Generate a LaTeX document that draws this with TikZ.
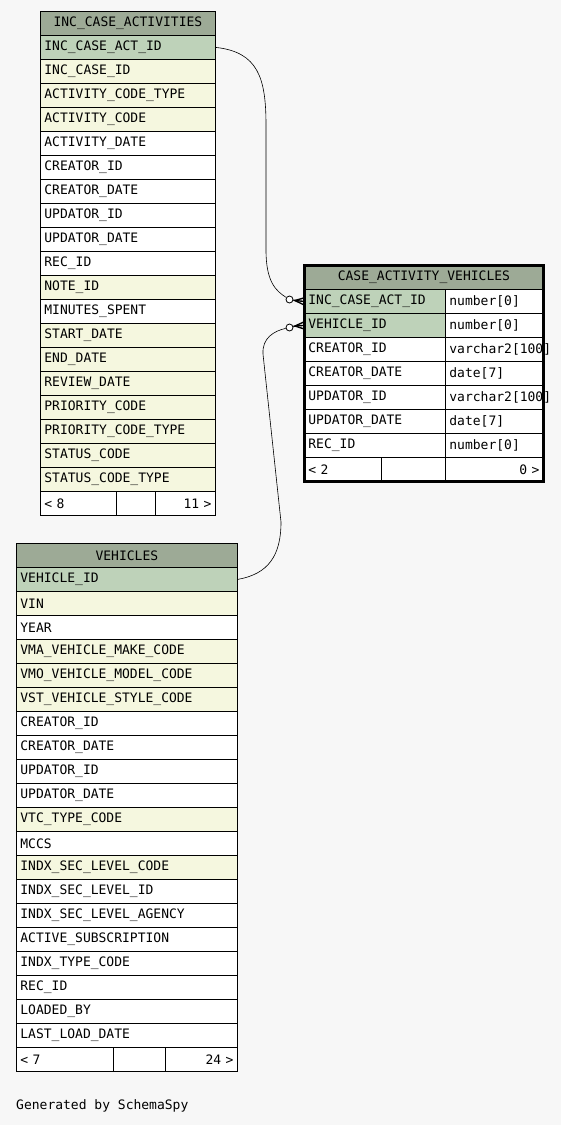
\documentclass[tikz,border=0pt]{standalone}
\usepackage{fontspec}
\usepackage{tikz}
\usepackage{xcolor}
\usetikzlibrary{calc}
\newfontfamily\monofam{DejaVu Sans Mono}
\newcommand{\tblfont}{\monofam\fontsize{13}{15}\selectfont}
\definecolor{pagebg}{HTML}{F7F7F7}
\definecolor{headgreen}{HTML}{9DAA96}
\definecolor{pkgreen}{HTML}{BED2B9}
\definecolor{fkyellow}{HTML}{F5F7DF}
\tikzset{
  tblrow/.style={draw=black,line width=0.8pt,anchor=north west,
                 minimum height=24pt,inner xsep=4pt,inner ysep=0pt,
                 align=left,font=\tblfont},
  headrow/.style={tblrow,fill=headgreen,align=center},
  pkrow/.style={tblrow,fill=pkgreen},
  fkrow/.style={tblrow,fill=fkyellow},
  fldrow/.style={tblrow,fill=white},
  footleft/.style={tblrow,fill=white},
  footright/.style={tblrow,fill=white,align=right},
  relline/.style={line width=0.6pt},
  crowfoot/.style={line width=1.4pt},
  optcirc/.style={circle,draw=black,fill=white,line width=0.8pt,
                  minimum size=7pt,inner sep=0pt}
}
\begin{document}
\begin{tikzpicture}[x=1pt,y=-1pt]
  \useasboundingbox[fill=pagebg] (0,0) rectangle (561,1125);

  % INC_CASE_ACTIVITIES
  \node[headrow,text width=167pt] (ica-h) at (40,11) {INC\_CASE\_ACTIVITIES};
  \foreach \fld/\kind [count=\i] in {INC\_CASE\_ACT\_ID/pkrow,INC\_CASE\_ID/fkrow,
      ACTIVITY\_CODE\_TYPE/fkrow,ACTIVITY\_CODE/fkrow,ACTIVITY\_DATE/fldrow,
      CREATOR\_ID/fldrow,CREATOR\_DATE/fldrow,UPDATOR\_ID/fldrow,
      UPDATOR\_DATE/fldrow,REC\_ID/fldrow,NOTE\_ID/fkrow,MINUTES\_SPENT/fldrow,
      START\_DATE/fkrow,END\_DATE/fkrow,REVIEW\_DATE/fkrow,PRIORITY\_CODE/fkrow,
      PRIORITY\_CODE\_TYPE/fkrow,STATUS\_CODE/fkrow,STATUS\_CODE\_TYPE/fkrow}
    \node[\kind,text width=167pt] (ica-\i) at (40,{35+24*(\i-1)}) {\fld};
  \node[footleft,text width=68pt] (ica-f1) at (40,491) {< 8};
  \node[footleft,text width=31pt] (ica-f2) at (116,491) {};
  \node[footright,text width=52pt] (ica-f3) at (155,491) {11 >};

  % VEHICLES
  \node[headrow,text width=213pt] (veh-h) at (16,543) {VEHICLES};
  \foreach \fld/\kind [count=\i] in {VEHICLE\_ID/pkrow,VIN/fkrow,YEAR/fldrow,
      VMA\_VEHICLE\_MAKE\_CODE/fkrow,VMO\_VEHICLE\_MODEL\_CODE/fkrow,
      VST\_VEHICLE\_STYLE\_CODE/fkrow,CREATOR\_ID/fldrow,CREATOR\_DATE/fldrow,
      UPDATOR\_ID/fldrow,UPDATOR\_DATE/fldrow,VTC\_TYPE\_CODE/fkrow,MCCS/fldrow,
      INDX\_SEC\_LEVEL\_CODE/fkrow,INDX\_SEC\_LEVEL\_ID/fldrow,
      INDX\_SEC\_LEVEL\_AGENCY/fldrow,ACTIVE\_SUBSCRIPTION/fldrow,
      INDX\_TYPE\_CODE/fldrow,REC\_ID/fldrow,LOADED\_BY/fldrow,
      LAST\_LOAD\_DATE/fldrow}
    \node[\kind,text width=213pt] (veh-\i) at (16,{567+24*(\i-1)}) {\fld};
  \node[footleft,text width=89pt] (veh-f1) at (16,1047) {< 7};
  \node[footleft,text width=44pt] (veh-f2) at (113,1047) {};
  \node[footright,text width=64pt] (veh-f3) at (165,1047) {24 >};

  % CASE_ACTIVITY_VEHICLES
  \node[headrow,text width=231pt] (cav-h) at (304,265) {CASE\_ACTIVITY\_VEHICLES};
  \foreach \fld/\kind/\dtype [count=\i] in {INC\_CASE\_ACT\_ID/pkrow/number[0],
      VEHICLE\_ID/pkrow/number[0],CREATOR\_ID/fldrow/varchar2[100],
      CREATOR\_DATE/fldrow/date[7],UPDATOR\_ID/fldrow/varchar2[100],
      UPDATOR\_DATE/fldrow/date[7],REC\_ID/fldrow/number[0]}
  {
    \node[\kind,text width=133pt] (cav-\i) at (304,{289+24*(\i-1)}) {\fld};
    \node[fldrow,text width=90pt] (cavt-\i) at (445,{289+24*(\i-1)}) {\dtype};
  }
  \node[footleft,text width=69pt] (cav-f1) at (304,457) {< 2};
  \node[footleft,text width=56pt] (cav-f2) at (381,457) {};
  \node[footright,text width=90pt] (cav-f3) at (445,457) {0 >};
  \draw[line width=3pt] (cav-h.north west) rectangle (cav-f3.south east);

  % relationships
  \node[optcirc] (opt-a) at (289.5,299.5) {};
  \coordinate (crow-a) at (295,300.5);
  \draw[relline] (ica-1.east) .. controls (258,52) and (266,78) .. (266,125)
    -- (266,250) .. controls (266,282) and (276,291) .. (opt-a);
  \draw[crowfoot] (opt-a) -- (crow-a);
  \draw[crowfoot] (crow-a) -- ($(cav-1.west)+(0,-3.5)$);
  \draw[crowfoot] (crow-a) -- (cav-1.west);
  \draw[crowfoot] (crow-a) -- ($(cav-1.west)+(0,3.5)$);

  \node[optcirc] (opt-b) at (289.5,327.5) {};
  \coordinate (crow-b) at (295,326);
  \draw[relline] (veh-1.east) .. controls (268,574) and (281,556) .. (281,522)
    -- (263,354) .. controls (262,338) and (274,331) .. (opt-b);
  \draw[crowfoot] (opt-b) -- (crow-b);
  \draw[crowfoot] (crow-b) -- ($(cav-2.west)+(0,-3.5)$);
  \draw[crowfoot] (crow-b) -- (cav-2.west);
  \draw[crowfoot] (crow-b) -- ($(cav-2.west)+(0,3.5)$);

  \node[anchor=west,inner sep=0pt,font=\tblfont] (credit) at (16,1106) {Generated by SchemaSpy};
\end{tikzpicture}
\end{document}
